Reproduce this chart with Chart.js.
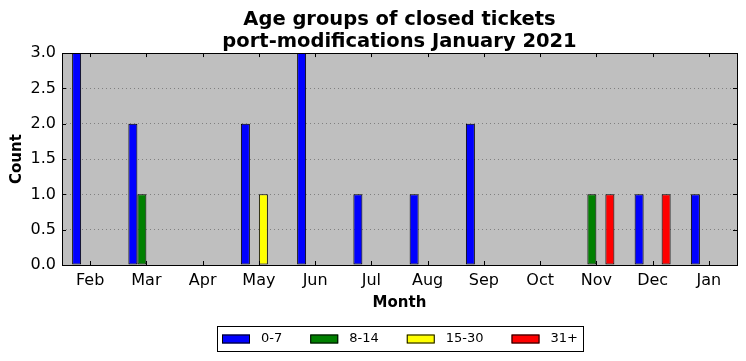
<!DOCTYPE html>
<html>
<head>
<meta charset="utf-8">
<script src="https://cdn.jsdelivr.net/npm/chart.js@4.4.0/dist/chart.umd.min.js"></script>
<style>
  body { margin: 0; background: #ffffff; }
  #wrap { width: 746px; height: 361px; }
</style>
</head>
<body>
<div id="wrap"><canvas id="myChart"></canvas></div>
<script>
// DATA
var months = ['Feb', 'Mar', 'Apr', 'May', 'Jun', 'Jul', 'Aug', 'Sep', 'Oct', 'Nov', 'Dec', 'Jan'];
var age0to7 = [3, 2, 0, 2, 3, 1, 1, 2, 0, 0, 1, 1];
var age8to14 = [0, 1, 0, 0, 0, 0, 0, 0, 0, 1, 0, 0];
var age15to30 = [0, 0, 0, 1, 0, 0, 0, 0, 0, 0, 0, 0];
var age31plus = [0, 0, 0, 0, 0, 0, 0, 0, 0, 1, 1, 0];
var groupLabels = ['0-7', '8-14', '15-30', '31+'];
var groupColors = ['#0000ff', '#008000', '#ffff00', '#ff0000'];
var yTicks = [0, 0.5, 1, 1.5, 2, 2.5, 3];

const FONT = 'DejaVu Sans';
Chart.defaults.font.family = FONT;
Chart.defaults.color = '#000000';

// grey plot background + black frame with inward ticks (matplotlib classic look)
const framePlugin = {
    id: 'frame',
    beforeDraw(chart) {
        const a = chart.chartArea;
        const ctx = chart.ctx;
        ctx.save();
        ctx.fillStyle = '#bfbfbf';
        ctx.fillRect(a.left, a.top, a.right - a.left, a.bottom - a.top);
        ctx.restore();
    },
    afterDatasetsDraw(chart) {
        const a = chart.chartArea;
        const ctx = chart.ctx;
        const xs = chart.scales.x;
        const ys = chart.scales.y;
        ctx.save();
        ctx.strokeStyle = '#000000';
        ctx.lineWidth = 1;
        ctx.beginPath();
        for (let i = 0; i < months.length; i++) {
            const x = Math.round(xs.getPixelForTick(i)) + 0.5;
            ctx.moveTo(x, a.bottom); ctx.lineTo(x, a.bottom - 4);
            ctx.moveTo(x, a.top); ctx.lineTo(x, a.top + 4);
        }
        for (const v of yTicks) {
            const y = Math.round(ys.getPixelForValue(v)) + 0.5;
            ctx.moveTo(a.left, y); ctx.lineTo(a.left + 4, y);
            ctx.moveTo(a.right, y); ctx.lineTo(a.right - 4, y);
        }
        ctx.stroke();
        ctx.strokeRect(Math.round(a.left) + 0.5, Math.round(a.top) + 0.5,
            Math.round(a.right - a.left), Math.round(a.bottom - a.top));
        ctx.restore();
    }
};

// boxed legend below the axis title
const boxLegend = {
    id: 'boxLegend',
    afterDraw(chart) {
        const ctx = chart.ctx;
        const a = chart.chartArea;
        ctx.save();
        ctx.font = '13px ' + FONT;
        const boxW = 28, boxH = 9, gapText = 11, gapItem = 28, padX = 5;
        const widths = groupLabels.map(t => ctx.measureText(t).width);
        let total = padX * 2;
        widths.forEach((w, i) => { total += boxW + gapText + w + (i < widths.length - 1 ? gapItem : 0); });
        const cx = (a.left + a.right) / 2;
        const left = Math.round(cx - total / 2);
        const top = 326, height = 25;
        ctx.lineWidth = 1;
        ctx.strokeStyle = '#000000';
        ctx.strokeRect(left + 0.5, top + 0.5, Math.round(total), height);
        let x = left + padX;
        const midY = top + height / 2 + 0.5;
        ctx.textBaseline = 'middle';
        ctx.fillStyle = '#000000';
        groupLabels.forEach((t, i) => {
            ctx.fillStyle = groupColors[i];
            ctx.fillRect(x, midY - boxH / 2, boxW, boxH);
            ctx.strokeRect(x + 0.5, midY - boxH / 2 + 0.5, boxW - 1, boxH - 1);
            ctx.fillStyle = '#000000';
            ctx.fillText(t, x + boxW + gapText, midY);
            x += boxW + gapText + widths[i] + gapItem;
        });
        ctx.restore();
    }
};

const ctxs = document.getElementById('myChart').getContext('2d');

const myChart = new Chart(ctxs, {
    type: 'bar',
    data: {
        labels: months,
        datasets: [age0to7, age8to14, age15to30, age31plus].map((d, i) => ({
            label: groupLabels[i],
            data: d,
            backgroundColor: groupColors[i],
            borderColor: '#000000',
            borderWidth: 1,
            borderSkipped: false,
            categoryPercentage: 0.64,
            barPercentage: 1.0,
        })),
    },
    options: {
        responsive: true,
        maintainAspectRatio: false,
        animation: false,
        layout: {
            padding: { left: 0, right: 9, top: 0, bottom: 41 },
        },
        scales: {
            x: {
                grid: { display: false, drawTicks: false },
                border: { display: false },
                ticks: { font: { size: 16 }, padding: 6, color: '#000000' },
                title: {
                    display: true,
                    text: 'Month',
                    font: { size: 15, weight: 'bold' },
                    padding: { top: 0, bottom: 8 },
                },
                afterFit(scale) { scale.height = 55; },
            },
            y: {
                min: 0,
                max: 3,
                grid: { color: '#808080', drawTicks: false },
                border: { display: false, dash: [1, 3] },
                ticks: {
                    stepSize: 0.5,
                    font: { size: 16 },
                    padding: 6,
                    color: '#000000',
                    callback: function (value) {
                        return value.toFixed(1);
                    },
                },
                title: {
                    display: true,
                    text: 'Count',
                    font: { size: 15, weight: 'bold' },
                    padding: { top: 8, bottom: 0 },
                },
                afterFit(scale) { scale.width = 62; },
            },
        },
        plugins: {
            legend: { display: false },
            tooltip: { enabled: false },
            title: {
                display: true,
                fullSize: false,
                text: ['Age groups of closed tickets', 'port-modifications January 2021'],
                font: { size: 19.5, weight: 'bold', lineHeight: 1.13 },
                color: '#000000',
                padding: { top: 9, bottom: 0 },
            },
        },
    },
    plugins: [framePlugin, boxLegend],
});
</script>
</body>
</html>
